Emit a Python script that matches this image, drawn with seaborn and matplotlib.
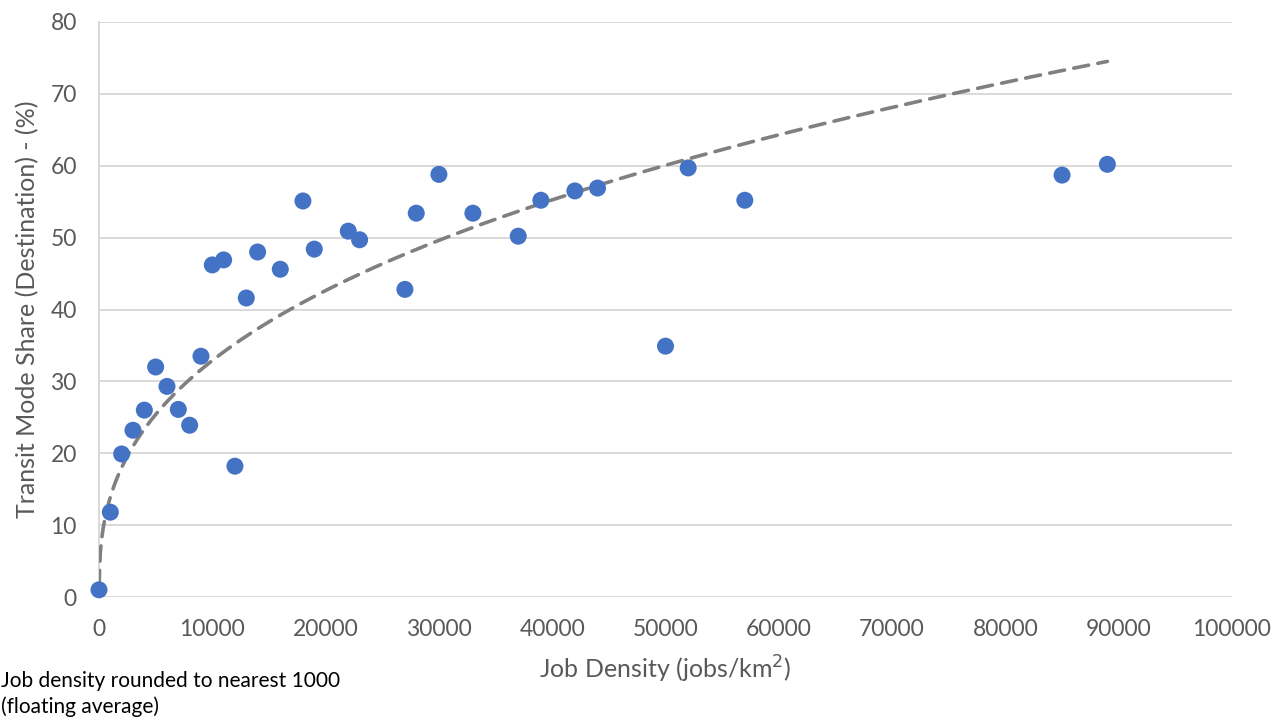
import numpy as np
import pandas as pd
import matplotlib
matplotlib.use("Agg")
import matplotlib.pyplot as plt
import seaborn as sns

# Job density (jobs/km², rounded to nearest 1000) and transit mode share (%)
job_density = [0, 1000, 2000, 3000, 4000, 5000, 6000, 7000, 8000, 9000,
               10000, 11000, 12000, 13000, 14000, 16000, 18000, 19000,
               22000, 23000, 27000, 28000, 30000, 33000, 37000, 39000,
               42000, 44000, 50000, 52000, 57000, 85000, 89000]
transit_share = [1.0, 11.8, 19.9, 23.2, 26.0, 32.0, 29.3, 26.1, 23.9, 33.5,
                 46.2, 46.9, 18.2, 41.6, 48.0, 45.6, 55.1, 48.4,
                 50.9, 49.7, 42.8, 53.4, 58.8, 53.4, 50.2, 55.2,
                 56.5, 56.9, 34.9, 59.7, 55.2, 58.7, 60.2]

# Power trend line y = coef * x^exponent
trend_coef = 1.05
trend_exponent = 0.374

x_ticks = list(range(0, 100001, 10000))
y_ticks = list(range(0, 81, 10))

df = pd.DataFrame({"density": job_density, "share": transit_share})
trend_x = np.linspace(3, max(job_density), 800)
trend = pd.DataFrame({"density": trend_x,
                      "share": trend_coef * trend_x ** trend_exponent})

sns.set_theme(style="white")
plt.rcParams["font.family"] = ["Lato", "DejaVu Sans"]

fig = plt.figure(figsize=(12.83, 7.19), dpi=100)
ax = fig.add_axes([99 / 1283, 1 - 597 / 719, (1232 - 99) / 1283, (597 - 22) / 719])

grid_col = "#d9d9d9"
text_col = "#595959"

sns.lineplot(data=trend, x="density", y="share", ax=ax, color="#808080",
             linewidth=2.6, linestyle=(0, (4.2, 2.6)), dash_capstyle="round",
             zorder=3)
sns.scatterplot(data=df, x="density", y="share", ax=ax, color="#4472C4",
                s=150, edgecolor="none", zorder=4, clip_on=False)

ax.set_xlim(0, 100000)
ax.set_ylim(0, 80)
ax.set_xticks(x_ticks)
ax.set_yticks(y_ticks)
ax.set_xticklabels([str(v) for v in x_ticks])
ax.set_yticklabels([str(v) for v in y_ticks])
ax.yaxis.grid(True, color=grid_col, linewidth=1.4)
ax.xaxis.grid(False)
ax.set_axisbelow(True)
for side in ["top", "right", "bottom"]:
    ax.spines[side].set_visible(False)
ax.spines["left"].set_color(grid_col)
ax.spines["left"].set_linewidth(1.4)
ax.tick_params(axis="both", length=0, colors=text_col, labelsize=16.5)
ax.tick_params(axis="y", pad=16)
ax.tick_params(axis="x", pad=16)

ax.set_xlabel("Job Density (jobs/km$^2$)", fontsize=18, color=text_col, labelpad=10)
ax.set_ylabel("Transit Mode Share (Destination) - (%)", fontsize=18,
              color=text_col, labelpad=8)

fig.text(0.001, 1 - 681 / 719, "Job density rounded to nearest 1000",
         fontsize=15, color="#000000", va="center", ha="left")
fig.text(0.001, 1 - 707 / 719, "(floating average)",
         fontsize=15, color="#000000", va="center", ha="left")

fig.savefig("out.png", dpi=100, facecolor="white")
